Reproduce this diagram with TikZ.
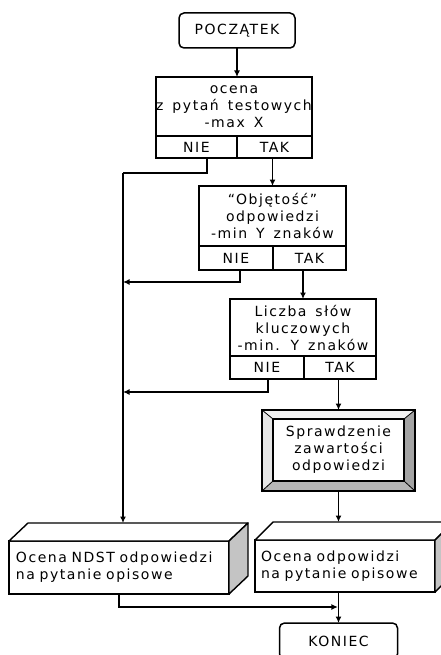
\documentclass[tikz,border=0pt]{standalone}
\usepackage{fontspec}
\setmainfont{DejaVu Sans}[LetterSpace=11,WordSpace=1.5]
\usetikzlibrary{arrows.meta,calc,backgrounds}
\definecolor{sidegray}{HTML}{C4C4C4}
\definecolor{bevlight}{HTML}{F2F2F2}
\definecolor{bevleft}{HTML}{E6E6E6}
\definecolor{bevright}{HTML}{A4A4A4}
\definecolor{bevbottom}{HTML}{B6B6B6}
\begin{document}
\begin{tikzpicture}[x=1pt,y=-1pt,
  every node/.style={font=\fontsize{14}{17}\selectfont, inner sep=0pt, outer sep=0pt},
  box/.style={draw, line width=1.5pt, fill=white, align=center},
  term/.style={box, rounded corners=5pt},
  conn/.style={line width=1.5pt},
  arr/.style={conn, -{Latex[length=6.5pt,width=6pt]}},
  face/.style={draw, line width=1.4pt, line join=round}
]
\clip (0,0) rectangle (441,655);

% start
\node[term, minimum width=116pt, minimum height=35pt] (start) at (237,30.5) {POCZĄTEK};

% decision 1
\node[box, minimum width=156pt, minimum height=59pt] (q1) at (234,106.5) {ocena\\z pytań testowych\\-max X};
\node[box, minimum width=81pt, minimum height=22pt] (n1) at (196.5,147) {NIE};
\node[box, minimum width=75pt, minimum height=22pt] (t1) at (274.5,147) {TAK};

% decision 2
\node[box, minimum width=147pt, minimum height=60pt] (q2) at (272.5,216) {“Objętość”\\odpowiedzi\\-min Y znaków};
\node[box, minimum width=74pt, minimum height=24pt] (n2) at (236,258) {NIE};
\node[box, minimum width=73pt, minimum height=24pt] (t2) at (309.5,258) {TAK};

% decision 3
\node[box, minimum width=146pt, minimum height=57pt] (q3) at (303,327.5) {Liczba słów\\kluczowych\\-min. Y znaków};
\node[box, minimum width=74pt, minimum height=23pt] (n3) at (267,367.5) {NIE};
\node[box, minimum width=72pt, minimum height=23pt] (t3) at (340,367.5) {TAK};

% bevel box
\node[draw, line width=1.5pt, minimum width=153pt, minimum height=81pt] (chk) at (338.5,450.5) {};
\node[box, minimum width=131pt, minimum height=62pt] (chkin) at (338.5,450) {Sprawdzenie\\zawartości\\odpowiedzi};
\begin{scope}[on background layer]
  \fill[bevlight] (chk.north west) -- (chk.north east) -- (chkin.north east) -- (chkin.north west) -- cycle;
  \fill[bevleft] (chk.north west) -- (chkin.north west) -- (chkin.south west) -- (chk.south west) -- cycle;
  \fill[bevright] (chk.north east) -- (chk.south east) -- (chkin.south east) -- (chkin.north east) -- cycle;
  \fill[bevbottom] (chk.south west) -- (chk.south east) -- (chkin.south east) -- (chkin.south west) -- cycle;
\end{scope}
\draw[line width=0.8pt] (chk.north west) -- (chkin.north west)
  (chk.north east) -- (chkin.north east)
  (chk.south west) -- (chkin.south west)
  (chk.south east) -- (chkin.south east);

% 3D box left
\node[box, minimum width=220pt, minimum height=53pt, text width=206pt, align=left] (f1) at (119,567.5) {Ocena NDST odpowiedzi\\na pytanie opisowe};
\coordinate (f1top) at ($(f1.north west)+(19,-18)$);
\filldraw[face, fill=white] (f1.north west) -- (f1top) -- ($(f1.north east)+(19,-18)$) -- (f1.north east) -- cycle;
\filldraw[face, fill=sidegray] (f1.north east) -- ++(19,-18) -- ($(f1.south east)+(19,-18)$) -- (f1.south east) -- cycle;

% 3D box right
\node[box, minimum width=180pt, minimum height=52pt, text width=168pt, align=left] (f2) at (345,566) {Ocena odpowidzi\\na pytanie opisowe};
\coordinate (f2top) at ($(f2.north west)+(18,-18)$);
\filldraw[face, fill=white] (f2.north west) -- (f2top) -- ($(f2.north east)+(18,-18)$) -- (f2.north east) -- cycle;
\filldraw[face, fill=sidegray] (f2.north east) -- ++(18,-18) -- ($(f2.south east)+(18,-18)$) -- (f2.south east) -- cycle;

% end
\node[term, minimum width=118pt, minimum height=36pt] (end) at (338.5,641) {KONIEC};

% junction coordinates
\coordinate (j1) at (123,173);
\coordinate (j2) at (123,282);
\coordinate (j3) at (123,392);
\coordinate (j4) at (338.5,607);

% connectors
\draw[arr] (start) -- (start.south |- q1.north);
\draw[conn] ([xshift=10.5pt]n1.south) |- (j1);
\draw[arr] (j1) -- (j1 |- f1top);
\draw[arr] (t1.south -| q2.north) -- (q2.north);
\draw[arr] ([xshift=4pt]n2.south) |- (j2);
\draw[arr] (t2.south -| q3.north) -- (q3.north);
\draw[arr] ([xshift=1pt]n3.south) |- (j3);
\draw[arr] (t3.south -| chk.north) -- (chk.north);
\draw[arr] (chk.south) -- (chk.south |- f2top);
\draw[arr, shorten >=0.6pt] (f1.south) |- (j4);
\draw[arr] (chk.south |- f2.south) -- (end.north);
\end{tikzpicture}
\end{document}
